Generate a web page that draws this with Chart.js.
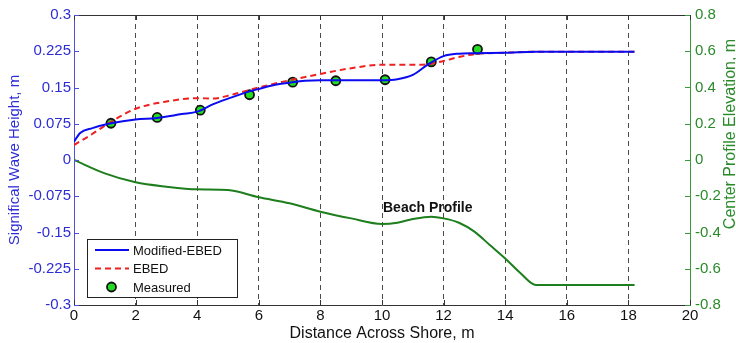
<!DOCTYPE html>
<html>
<head>
<meta charset="utf-8">
<script src="https://cdn.jsdelivr.net/npm/chart.js@4.4.1/dist/chart.umd.min.js"></script>
<style>
html, body { margin: 0; padding: 0; background: #fff; }
#wrap { width: 736px; height: 343px; }
</style>
</head>
<body>
<div id="wrap"><canvas id="chart" width="736" height="343"></canvas></div>
<script>
// data
const modX = [0, 0.2, 0.6, 1.2, 2, 2.7, 3.5, 4, 4.5, 5, 5.7, 6, 6.5, 7, 7.5, 8, 9, 10, 10.5, 11, 11.5, 12, 12.5, 13, 14, 15, 18.2];
const modY = [0.038, 0.056, 0.066, 0.076, 0.084, 0.087, 0.095, 0.1, 0.115, 0.127, 0.142, 0.147, 0.155, 0.16, 0.164, 0.165, 0.165, 0.165, 0.167, 0.176, 0.198, 0.215, 0.22, 0.221, 0.222, 0.224, 0.224];

const ebedX = [0, 0.5, 1.2, 2, 3, 4, 4.5, 5, 5.7, 6, 7, 8, 9, 10, 11, 11.5, 12, 12.5, 13, 14, 15, 18.2];
const ebedY = [0.031, 0.05, 0.079, 0.106, 0.121, 0.128, 0.127, 0.133, 0.145, 0.15, 0.165, 0.178, 0.19, 0.197, 0.197, 0.198, 0.205, 0.213, 0.219, 0.222, 0.224, 0.224];

const measX = [1.2, 2.7, 4.1, 5.7, 7.1, 8.5, 10.1, 11.6, 13.1];
const measY = [0.076, 0.088, 0.103, 0.135, 0.161, 0.164, 0.166, 0.203, 0.229];

const profX = [0, 1, 2, 3, 4, 5, 6, 7, 8, 9, 10, 10.5, 11, 11.6, 12, 12.5, 13, 13.5, 14, 14.5, 15, 18.2];
const profY = [0, -0.074, -0.123, -0.147, -0.162, -0.166, -0.206, -0.239, -0.285, -0.322, -0.353, -0.346, -0.326, -0.313, -0.322, -0.346, -0.395, -0.469, -0.543, -0.625, -0.69, -0.69];

const xTicks = [0, 2, 4, 6, 8, 10, 12, 14, 16, 18, 20];
const leftTicks = [-0.3, -0.225, -0.15, -0.075, 0, 0.075, 0.15, 0.225, 0.3];
const rightTicks = [-0.8, -0.6, -0.4, -0.2, 0, 0.2, 0.4, 0.6, 0.8];

const BLUE_TXT = '#2d2dd6';
const GREEN_TXT = '#2a8a2a';
const FONT = "'Liberation Sans', Arial, sans-serif";

const pts = (xs, ys) => xs.map((x, i) => ({ x: x, y: ys[i] }));

// inward ticks, top border, right title, annotation, legend
const extras = {
  id: 'extras',
  afterDatasetsDraw(chart) {
    const { ctx, chartArea: a, scales } = chart;
    ctx.save();
    ctx.lineWidth = 1;
    ctx.setLineDash([]);
    // top border
    ctx.strokeStyle = '#333';
    ctx.beginPath();
    ctx.moveTo(a.left, a.top + 0.5);
    ctx.lineTo(a.right, a.top + 0.5);
    ctx.stroke();
    // x ticks
    xTicks.forEach(v => {
      const px = Math.round(scales.x.getPixelForValue(v)) + 0.5;
      ctx.beginPath();
      ctx.moveTo(px, a.bottom); ctx.lineTo(px, a.bottom - 5);
      ctx.moveTo(px, a.top); ctx.lineTo(px, a.top + 5);
      ctx.stroke();
    });
    ctx.strokeStyle = '#5050dd';
    leftTicks.forEach(v => {
      const py = Math.round(scales.y.getPixelForValue(v)) + 0.5;
      ctx.beginPath();
      ctx.moveTo(a.left, py); ctx.lineTo(a.left + 5, py);
      ctx.stroke();
    });
    ctx.strokeStyle = '#3a9a3a';
    rightTicks.forEach(v => {
      const py = Math.round(scales.y2.getPixelForValue(v)) + 0.5;
      ctx.beginPath();
      ctx.moveTo(a.right, py); ctx.lineTo(a.right - 5, py);
      ctx.stroke();
    });

    // right axis title, reads bottom to top
    ctx.save();
    ctx.translate(731, 134);
    ctx.rotate(-Math.PI / 2);
    ctx.fillStyle = GREEN_TXT;
    ctx.font = '16px ' + FONT;
    ctx.textAlign = 'center';
    ctx.textBaseline = 'middle';
    ctx.fillText('Center Profile Elevation, m', 0, 0);
    ctx.restore();

    // annotation
    ctx.fillStyle = '#111';
    ctx.font = 'bold 14px ' + FONT;
    ctx.textAlign = 'left';
    ctx.textBaseline = 'middle';
    ctx.fillText('Beach Profile', 383, 208);

    // legend
    const bx = 87, by = 239, bw = 150, bh = 58;
    ctx.fillStyle = '#fff';
    ctx.fillRect(bx, by, bw, bh);
    ctx.strokeStyle = '#222';
    ctx.strokeRect(bx + 0.5, by + 0.5, bw, bh);
    const rows = [250, 268.5, 287];
    chart.data.datasets.filter(d => d.inLegend).forEach((d, i) => {
      const ry = rows[i];
      if (d.showLine === false) {
        ctx.beginPath();
        ctx.arc(111.5, ry, d.pointRadius, 0, Math.PI * 2);
        ctx.fillStyle = d.pointBackgroundColor;
        ctx.fill();
        ctx.lineWidth = d.pointBorderWidth;
        ctx.strokeStyle = d.pointBorderColor;
        ctx.stroke();
      } else {
        ctx.beginPath();
        ctx.setLineDash(d.borderDash || []);
        ctx.lineWidth = d.borderWidth;
        ctx.strokeStyle = d.borderColor;
        ctx.moveTo(95, ry); ctx.lineTo(129, ry);
        ctx.stroke();
        ctx.setLineDash([]);
      }
      ctx.fillStyle = '#111';
      ctx.font = '13px ' + FONT;
      ctx.fillText(d.label, 133, ry + 1);
    });
    ctx.restore();
  }
};

const ctx = document.getElementById('chart').getContext('2d');
const chart = new Chart(ctx, {
  type: 'line',
  data: {
    datasets: [
      {
        label: 'Modified-EBED',
        inLegend: true,
        data: pts(modX, modY),
        yAxisID: 'y',
        borderColor: '#0b0bf0',
        borderWidth: 2,
        pointRadius: 0,
        cubicInterpolationMode: 'monotone'
      },
      {
        label: 'EBED',
        inLegend: true,
        data: pts(ebedX, ebedY),
        yAxisID: 'y',
        borderColor: '#ee2020',
        borderWidth: 2,
        borderDash: [6, 4],
        pointRadius: 0,
        cubicInterpolationMode: 'monotone'
      },
      {
        label: 'Measured',
        inLegend: true,
        data: pts(measX, measY),
        yAxisID: 'y',
        showLine: false,
        pointRadius: 4.5,
        pointBackgroundColor: '#22dd22',
        pointBorderColor: '#111',
        pointBorderWidth: 1.8
      },
      {
        label: 'Beach Profile',
        inLegend: false,
        data: pts(profX, profY),
        yAxisID: 'y2',
        borderColor: '#1c7e1c',
        borderWidth: 2,
        pointRadius: 0,
        cubicInterpolationMode: 'monotone'
      }
    ]
  },
  options: {
    responsive: false,
    devicePixelRatio: 1,
    animation: false,
    layout: { padding: { top: 15, left: 0, right: 0, bottom: 0 } },
    plugins: {
      legend: { display: false },
      tooltip: { enabled: false }
    },
    scales: {
      x: {
        type: 'linear',
        min: 0,
        max: 20,
        afterBuildTicks: s => { s.ticks = xTicks.map(v => ({ value: v })); },
        afterFit: s => { s.height = 38; },
        ticks: { color: '#111', font: { size: 15, family: FONT }, padding: 2, maxRotation: 0 },
        grid: {
          drawTicks: false,
          lineWidth: 1,
          color: c => (c.tick && (c.tick.value === 0 || c.tick.value === 20)) ? 'rgba(0,0,0,0)' : '#4a4a4a'
        },
        border: { color: '#333', width: 1, dash: [5, 4] },
        title: {
          display: true,
          text: 'Distance Across Shore, m',
          color: '#111',
          font: { size: 16, family: FONT },
          padding: { top: 0, bottom: 0 }
        }
      },
      y: {
        position: 'left',
        min: -0.3,
        max: 0.3,
        afterBuildTicks: s => { s.ticks = leftTicks.map(v => ({ value: v })); },
        afterFit: s => { s.width = 74; },
        ticks: {
          color: BLUE_TXT,
          font: { size: 15, family: FONT },
          padding: 3,
          callback: v => String(Math.round(v * 1000) / 1000)
        },
        grid: { display: false, drawTicks: false },
        border: { color: '#5050dd', width: 1 },
        title: {
          display: true,
          text: 'Significal Wave Height, m',
          color: BLUE_TXT,
          font: { size: 15, family: FONT },
          padding: { top: 6, bottom: 0 }
        }
      },
      y2: {
        position: 'right',
        min: -0.8,
        max: 0.8,
        afterBuildTicks: s => { s.ticks = rightTicks.map(v => ({ value: v })); },
        afterFit: s => { s.width = 46; },
        ticks: {
          color: GREEN_TXT,
          font: { size: 15, family: FONT },
          padding: 5,
          callback: v => String(Math.round(v * 10) / 10)
        },
        grid: { display: false, drawTicks: false },
        border: { color: '#3a9a3a', width: 1 }
      }
    }
  },
  plugins: [extras]
});
</script>
</body>
</html>
